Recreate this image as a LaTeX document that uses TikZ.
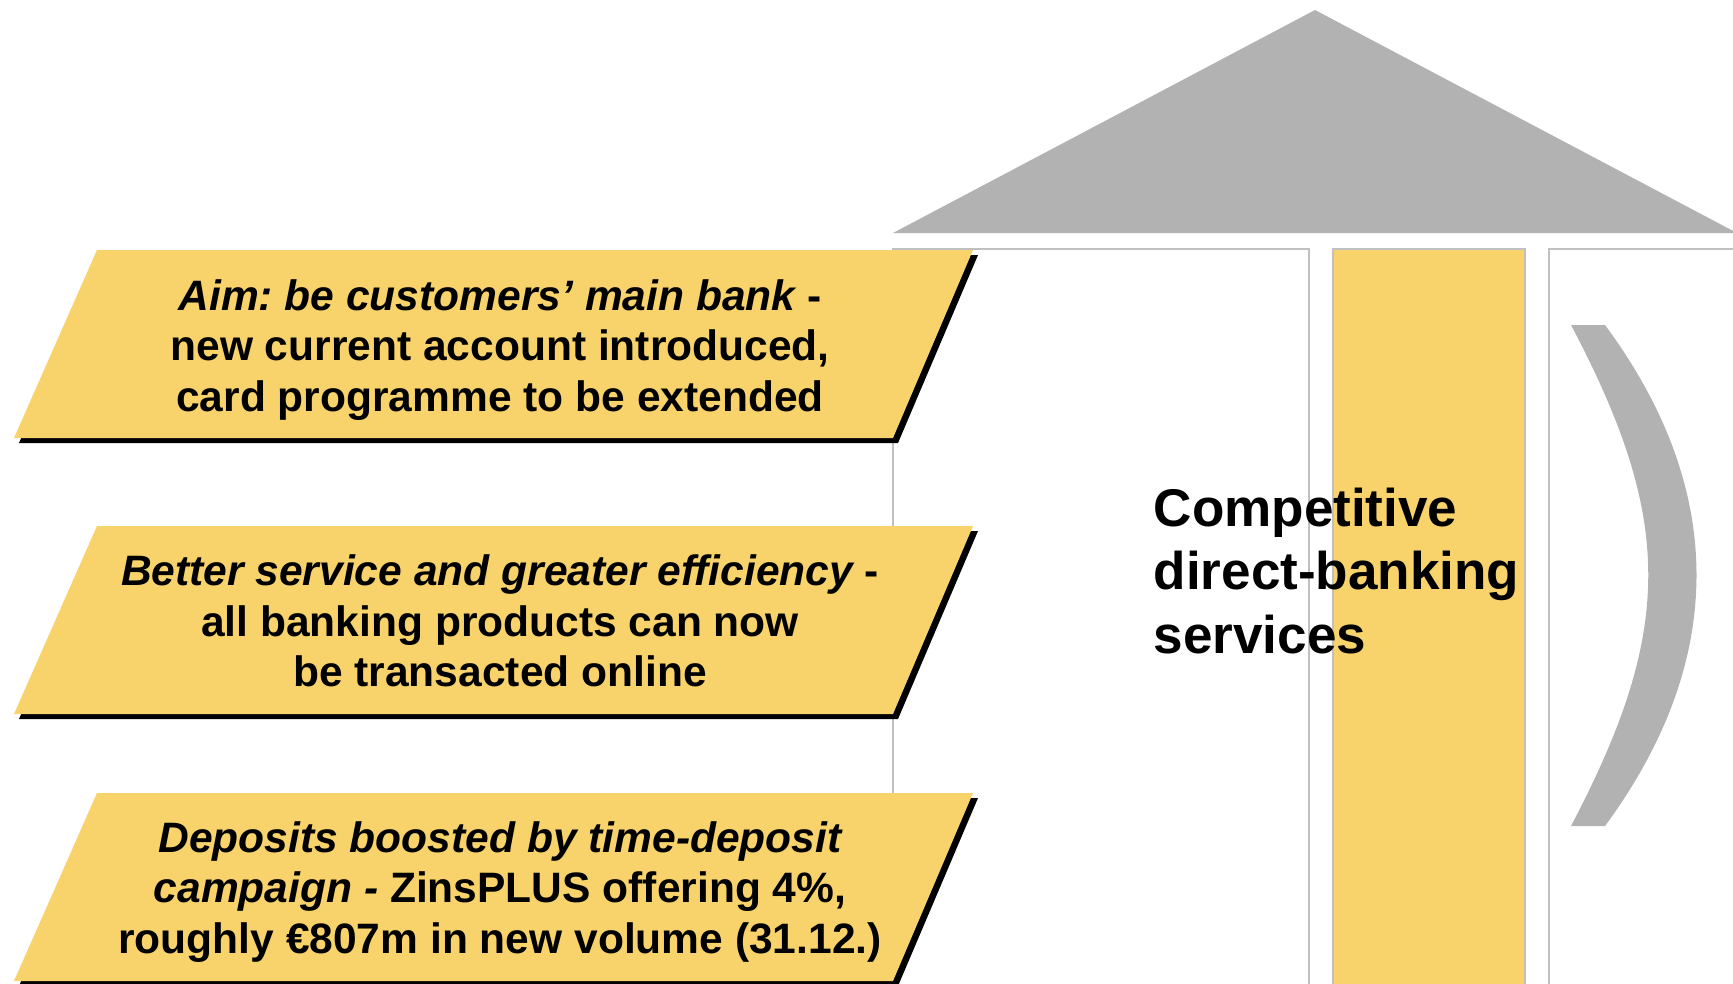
\documentclass[tikz,border=0pt]{standalone}
\usepackage{fontspec}
\setmainfont{Liberation Sans}
\usepackage{tikz}
\frenchspacing
\definecolor{myellow}{RGB}{248, 211, 107}
\definecolor{mgray}{RGB}{178, 178, 178}
\definecolor{mline}{RGB}{192, 192, 192}
\tikzset{banner/.style = {fill = myellow}}
\tikzset{btext/.style = {align = center, inner sep = 0, font = \bfseries\fontsize{12.1}{14.4}\selectfont}}
\tikzset{pillar/.style = {draw = mline, line width = 0.2mm}}

\begin{document}
\begin{tikzpicture}[x = 0.1mm, y = -0.1mm]
      \useasboundingbox (0, 0) rectangle (1733, 983);
      \clip (0, 0) rectangle (1733, 983);
      \fill [mgray] (893, 233) -- (1315, 10) -- (1737, 233) -- cycle;
      \draw [pillar, fill = white] (893, 1000) -- (893, 249) -- (1309, 249) -- (1309, 1000);
      \draw [pillar, fill = myellow] (1333, 1000) -- (1333, 249) -- (1525, 249) -- (1525, 1000);
      \draw [pillar] (1549, 1000) -- (1549, 249) -- (1750, 249);
      \fill [mgray] (1571, 325) -- (1605, 325) .. controls (1727, 490) and (1727, 660) .. (1605, 826)
        -- (1571, 826) .. controls (1674, 630) and (1674, 520) .. (1571, 325) -- cycle;
      \foreach \y in {250, 526, 793} {
        \fill [black, shift = {(5, 5)}] (97, \y) -- (973, \y) -- (893, \y + 188) -- (14, \y + 188) -- cycle;
        \fill [banner] (97, \y) -- (973, \y) -- (893, \y + 188) -- (14, \y + 188) -- cycle;
      }
      \node [btext] (aim) at (500, 350) {{\itshape Aim: be customers’ main bank} -\\new current account introduced,\\card programme to be extended};
      \node [btext] (service) at (500, 621) {{\itshape Better service and greater efficiency} -\\all banking products can now\\be transacted online};
      \node [btext] (deposits) at (500, 892) {{\itshape Deposits boosted by time-deposit}\\{\itshape campaign -} ZinsPLUS offering 4\%,\\roughly €807m in new volume (31.12.)};
      \node [align = left, inner sep = 0, anchor = north west, font = \bfseries\fontsize{15.1}{18.1}\selectfont] (compet) at (1153, 487) {Competitive\\direct-banking\\services};
    \end{tikzpicture}
\end{document}
